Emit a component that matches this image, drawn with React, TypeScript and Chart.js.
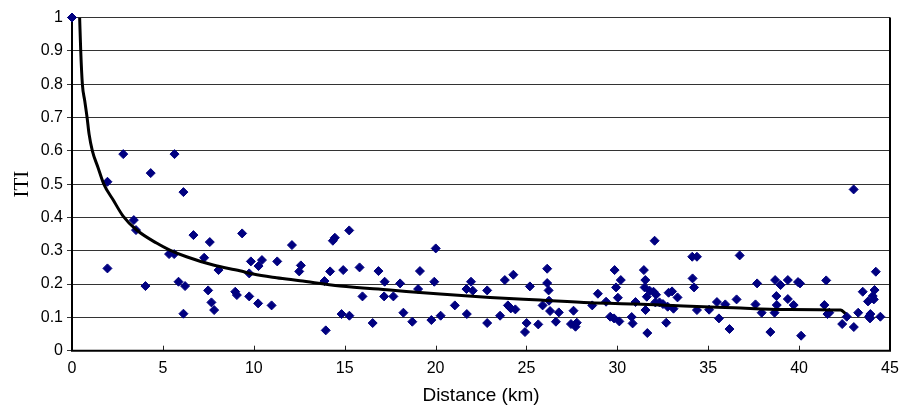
import React, { useEffect, useRef } from "react";
import { Chart, registerables } from "chart.js";

Chart.register(...registerables);

// Observed points (Distance km, ITI)
const scatterX = [
  0, 1.95, 1.95, 2.82, 3.4, 3.52, 4.04, 4.33, 5.34, 5.62, 5.64, 5.86, 6.13, 6.13, 6.22, 6.68, 7.27, 7.49, 7.58, 7.67,
  7.82, 8.06, 8.98, 9.07, 9.36, 9.75, 9.84, 9.75, 10.24, 10.26, 10.45, 10.98, 11.29, 12.1, 12.5, 12.59, 13.89, 13.96, 14.2, 14.35,
  14.46, 14.83, 14.92, 15.25, 15.26, 15.82, 15.98, 16.54, 16.86, 17.2, 17.17, 17.68, 18.05, 18.23, 18.72, 19.14, 19.04, 20.01, 19.93, 19.77,
  20.28, 21.06, 21.72, 21.7, 22.05, 21.95, 22.84, 22.84, 23.55, 23.81, 24.28, 23.98, 24.14, 24.39, 25.19, 25.01, 24.92, 25.65, 26.14, 26.14,
  26.22, 26.24, 25.89, 26.3, 26.62, 26.78, 27.59, 27.45, 27.7, 27.77, 28.62, 28.93, 29.38, 29.61, 29.82, 30.11, 29.85, 30.19, 29.93, 30.03,
  30.79, 30.84, 31.0, 31.46, 31.54, 31.5, 31.62, 31.55, 31.65, 31.78, 31.99, 32.13, 32.05, 32.09, 32.32, 32.51, 32.69, 32.82, 33.01, 32.77,
  33.09, 33.31, 34.12, 34.38, 34.14, 34.22, 34.38, 35.05, 35.48, 35.59, 35.94, 36.17, 36.56, 36.73, 37.6, 37.69, 37.94, 38.42, 38.68, 38.75,
  38.77, 38.65, 38.98, 39.38, 39.38, 39.7, 39.94, 40.05, 40.11, 41.49, 41.39, 41.56, 41.66, 42.37, 42.62, 43.0, 43.01, 43.25, 43.5, 43.79,
  43.85, 43.92, 43.9, 44.05, 44.11, 44.15, 44.22, 44.47,
];
const scatterY = [
  1.0, 0.507, 0.247, 0.59, 0.392, 0.362, 0.194, 0.533, 0.29, 0.29, 0.59, 0.207, 0.476, 0.111, 0.194, 0.347, 0.279, 0.181, 0.326, 0.145,
  0.122, 0.242, 0.177, 0.167, 0.352, 0.232, 0.268, 0.163, 0.142, 0.254, 0.272, 0.136, 0.268, 0.317, 0.238, 0.256, 0.209, 0.061, 0.238, 0.33,
  0.339, 0.11, 0.242, 0.361, 0.105, 0.25, 0.163, 0.083, 0.239, 0.207, 0.163, 0.163, 0.202, 0.114, 0.087, 0.239, 0.185, 0.307, 0.207, 0.092,
  0.105, 0.136, 0.11, 0.185, 0.18, 0.207, 0.181, 0.083, 0.105, 0.212, 0.228, 0.136, 0.127, 0.124, 0.193, 0.083, 0.056, 0.079, 0.246, 0.203,
  0.181, 0.15, 0.136, 0.119, 0.087, 0.115, 0.12, 0.08, 0.072, 0.084, 0.136, 0.171, 0.147, 0.102, 0.097, 0.088, 0.242, 0.212, 0.19, 0.159,
  0.101, 0.082, 0.146, 0.242, 0.212, 0.19, 0.162, 0.122, 0.053, 0.18, 0.177, 0.168, 0.33, 0.145, 0.145, 0.14, 0.084, 0.174, 0.178, 0.132,
  0.126, 0.16, 0.282, 0.282, 0.217, 0.19, 0.122, 0.123, 0.146, 0.097, 0.139, 0.065, 0.154, 0.286, 0.139, 0.202, 0.114, 0.056, 0.212, 0.164,
  0.137, 0.114, 0.197, 0.212, 0.155, 0.137, 0.206, 0.202, 0.045, 0.211, 0.137, 0.11, 0.114, 0.08, 0.102, 0.484, 0.071, 0.114, 0.177, 0.148,
  0.103, 0.11, 0.097, 0.164, 0.154, 0.182, 0.237, 0.102,
];

// Fitted curve
const curveX = [0.42, 0.48, 0.57, 0.7, 0.83, 0.94, 1.12, 1.43, 1.75, 2.26, 2.81, 3.54, 4.65, 5.38, 6.3, 7.77, 9.23, 9.97, 11.25, 12.54, 14.74, 17.49, 20.25, 23.0, 25.75, 28.5, 30.98, 33.65, 36.4, 39.15, 42.28, 42.55];
const curveY = [1.0, 0.9, 0.8, 0.75, 0.7, 0.65, 0.6, 0.55, 0.5, 0.453, 0.404, 0.363, 0.323, 0.302, 0.282, 0.257, 0.24, 0.23, 0.219, 0.21, 0.194, 0.182, 0.17, 0.16, 0.152, 0.144, 0.14, 0.134, 0.129, 0.124, 0.122, 0.112];

const xTickValues = [0, 5, 10, 15, 20, 25, 30, 35, 40, 45];
const yTickValues = [0, 0.1, 0.2, 0.3, 0.4, 0.5, 0.6, 0.7, 0.8, 0.9, 1];

const framePlugin = {
  id: "frame",
  beforeDatasetsDraw(chart: any) {
    const { ctx, chartArea, scales } = chart;
    const { left, top, right, bottom } = chartArea;
    const x = scales.x;
    ctx.save();
    ctx.strokeStyle = "#222";
    ctx.lineWidth = 1;
    xTickValues.forEach((v) => {
      const px = Math.round(x.getPixelForValue(v)) + 0.5;
      ctx.beginPath();
      ctx.moveTo(px, bottom);
      ctx.lineTo(px, bottom - 5);
      ctx.stroke();
    });
    ctx.strokeStyle = "#000";
    ctx.lineWidth = 2;
    ctx.beginPath();
    ctx.moveTo(left, top);
    ctx.lineTo(left, bottom);
    ctx.lineTo(right, bottom);
    ctx.lineTo(right, top);
    ctx.stroke();
    ctx.restore();
  },
};

export default function App() {
  const ref = useRef<HTMLCanvasElement>(null);

  useEffect(() => {
    const canvas = ref.current;
    if (!canvas) return;
    const chart = new Chart(canvas, {
      type: "scatter",
      data: {
        datasets: [
          {
            type: "line",
            data: curveX.map((x, i) => ({ x, y: curveY[i] })),
            borderColor: "#000",
            borderWidth: 3,
            pointRadius: 0,
            fill: false,
            cubicInterpolationMode: "monotone",
            order: 0,
          } as any,
          {
            type: "scatter",
            data: scatterX.map((x, i) => ({ x, y: scatterY[i] })),
            pointStyle: "rectRot",
            pointRadius: 4.5,
            backgroundColor: "#000080",
            borderColor: "#000080",
            borderWidth: 1,
            clip: false,
            order: 1,
          } as any,
        ],
      },
      options: {
        responsive: false,
        animation: false,
        devicePixelRatio: 1,
        layout: { padding: { left: 0, right: 19, top: 17.5, bottom: 0 } },
        plugins: { legend: { display: false }, tooltip: { enabled: false } },
        scales: {
          x: {
            type: "linear",
            min: 0,
            max: 45,
            afterBuildTicks: (scale: any) => {
              scale.ticks = xTickValues.map((v) => ({ value: v }));
            },
            afterFit: (scale: any) => {
              scale.height = 54.3;
            },
            grid: { display: false, drawTicks: false },
            border: { display: false },
            ticks: {
              color: "#000",
              padding: 8,
              maxRotation: 0,
              callback: (v: any) => String(v),
              font: { family: "'Liberation Sans', Arial, sans-serif", size: 16 },
            },
            title: {
              display: true,
              text: "Distance (km)",
              color: "#000",
              padding: { top: 0, bottom: 0 },
              font: { family: "'Liberation Sans', Arial, sans-serif", size: 19, lineHeight: 1.0 },
            },
          },
          y: {
            type: "linear",
            min: 0,
            max: 1,
            afterBuildTicks: (scale: any) => {
              scale.ticks = yTickValues.map((v) => ({ value: v }));
            },
            afterFit: (scale: any) => {
              scale.width = 72;
            },
            grid: { color: "#333", lineWidth: 1, drawTicks: true, tickLength: 5 },
            border: { display: false },
            ticks: {
              color: "#000",
              padding: 4,
              callback: (v: any) => String(Math.round(Number(v) * 10) / 10),
              font: { family: "'Liberation Sans', Arial, sans-serif", size: 16 },
            },
            title: {
              display: true,
              text: "ITI",
              color: "#000",
              padding: { top: 10, bottom: 0 },
              font: { family: "'Liberation Serif', 'Times New Roman', serif", size: 21 },
            },
          },
        },
      },
      plugins: [framePlugin],
    } as any);
    return () => chart.destroy();
  }, []);

  return (
    <div style={{ position: "absolute", left: 0, top: 0, width: 909, height: 405, background: "#fff" }}>
      <canvas ref={ref} width={909} height={405} style={{ display: "block", width: 909, height: 405 }} />
    </div>
  );
}
